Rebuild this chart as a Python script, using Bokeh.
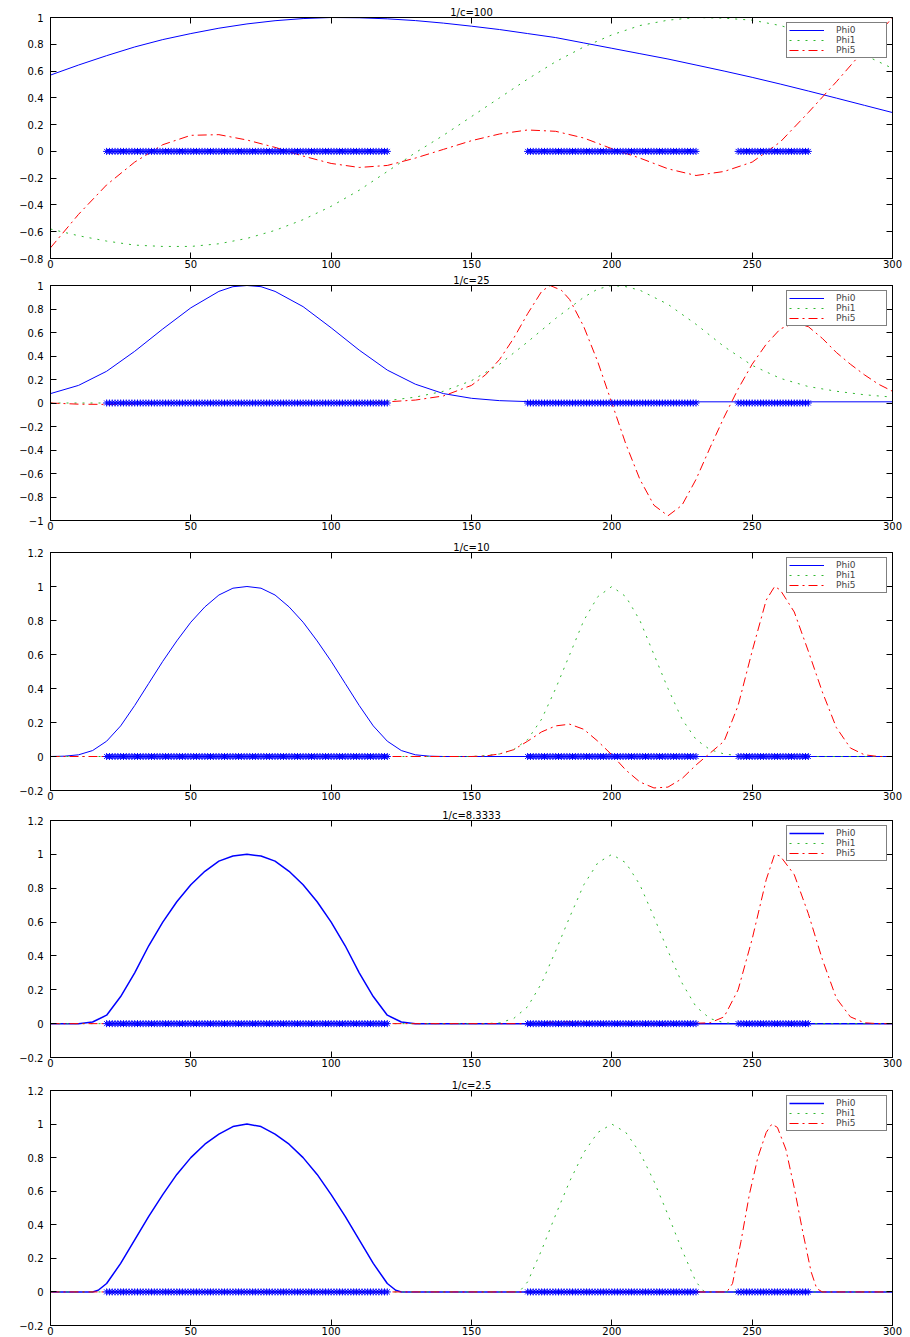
from bokeh.plotting import figure
from bokeh.layouts import column
from bokeh.models import Range1d, FixedTicker, LinearAxis, Title
from bokeh.embed import file_html
from bokeh.resources import INLINE

# ---------------- data ----------------
TITLES = ["1/c=100", "1/c=25", "1/c=10", "1/c=8.3333", "1/c=2.5"]
SERIES_NAMES = ["Phi0", "Phi1", "Phi5"]

X_TICKS = [0, 50, 100, 150, 200, 250, 300]

Y_TICKS_P1 = [-0.8, -0.6, -0.4, -0.2, 0, 0.2, 0.4, 0.6, 0.8, 1]
Y_LABELS_P1 = ["\u22120.8", "\u22120.6", "\u22120.4", "\u22120.2", "0", "0.2", "0.4", "0.6", "0.8", "1"]
Y_TICKS_P2 = [-1, -0.8, -0.6, -0.4, -0.2, 0, 0.2, 0.4, 0.6, 0.8, 1]
Y_LABELS_P2 = ["\u22121", "\u22120.8", "\u22120.6", "\u22120.4", "\u22120.2", "0", "0.2", "0.4", "0.6", "0.8", "1"]
Y_TICKS_P345 = [-0.2, 0, 0.2, 0.4, 0.6, 0.8, 1, 1.2]
Y_LABELS_P345 = ["\u22120.2", "0", "0.2", "0.4", "0.6", "0.8", "1", "1.2"]

# node positions (blue stars on y=0): three node segments, unit spacing
NODE_SEGMENTS = [(20, 120), (170, 230), (245, 270)]
NODE_STEP = 1

# panel 1  (1/c=100)
P1_X = [0, 10, 20, 30, 40, 50, 60, 70, 80, 90, 100, 110, 120, 130, 140, 150,
        160, 170, 180, 190, 200, 210, 220, 230, 240, 250, 260, 270, 280, 290, 300]
P1_PHI0 = [0.57, 0.645, 0.715, 0.78, 0.835, 0.88, 0.92, 0.952, 0.976, 0.992, 1.0, 0.998, 0.99,
           0.977, 0.958, 0.935, 0.91, 0.88, 0.85, 0.81, 0.77, 0.73, 0.69, 0.645, 0.60, 0.553,
           0.503, 0.451, 0.398, 0.344, 0.29]
P1_PHI1 = [-0.58, -0.63, -0.67, -0.70, -0.71, -0.71, -0.69, -0.65, -0.59, -0.51, -0.41, -0.29,
           -0.15, -0.01, 0.12, 0.26, 0.40, 0.54, 0.67, 0.78, 0.87, 0.94, 0.98, 1.0, 0.995, 0.98,
           0.94, 0.88, 0.81, 0.72, 0.62]
P1_PHI5 = [-0.72, -0.47, -0.25, -0.08, 0.05, 0.12, 0.125, 0.085, 0.03, -0.035, -0.09, -0.12,
           -0.105, -0.05, 0.015, 0.08, 0.13, 0.16, 0.15, 0.10, 0.02, -0.05, -0.13, -0.18, -0.15,
           -0.08, 0.07, 0.29, 0.52, 0.76, 1.0]

# panel 2  (1/c=25)
P2_PHI0_X = [0, 10, 20, 30, 40, 50, 60, 65, 70, 75, 80, 90, 100, 110, 120, 130, 140, 150, 160,
             170, 180, 300]
P2_PHI0_Y = [0.08, 0.15, 0.27, 0.44, 0.63, 0.81, 0.95, 0.99, 1.0, 0.99, 0.95, 0.82, 0.64, 0.45,
             0.28, 0.16, 0.08, 0.04, 0.02, 0.012, 0.01, 0.01]
P2_PHI1_X = [0, 100, 110, 120, 130, 140, 150, 160, 170, 180, 190, 195, 200, 205, 210, 220, 230,
             240, 250, 260, 270, 280, 290, 300]
P2_PHI1_Y = [0, 0.0, 0.01, 0.02, 0.05, 0.10, 0.19, 0.33, 0.52, 0.72, 0.90, 0.97, 1.0, 0.99, 0.96,
             0.84, 0.67, 0.48, 0.32, 0.21, 0.14, 0.10, 0.07, 0.05]
P2_PHI5_X = [0, 10, 20, 30, 40, 110, 120, 130, 140, 150, 155, 160, 165, 170, 175, 178, 182, 185,
             190, 195, 200, 205, 210, 215, 220, 225, 230, 235, 240, 245, 250, 255, 260, 265, 270,
             275, 280, 285, 290, 295, 300]
P2_PHI5_Y = [0, -0.01, -0.012, -0.008, 0, 0, 0.01, 0.025, 0.06, 0.15, 0.24, 0.37, 0.55, 0.76,
             0.95, 1.0, 0.96, 0.88, 0.65, 0.35, 0.0, -0.35, -0.65, -0.87, -0.96, -0.87, -0.65,
             -0.38, -0.12, 0.12, 0.33, 0.50, 0.63, 0.68, 0.65, 0.55, 0.43, 0.33, 0.24, 0.16, 0.10]

# panel 3  (1/c=10)
P3_PHI0_X = [0, 5, 10, 15, 20, 25, 30, 35, 40, 45, 50, 55, 60, 65, 70, 75, 80, 85, 90, 95, 100,
             105, 110, 115, 120, 125, 130, 135, 140, 300]
P3_PHI0_Y = [0, 0.002, 0.01, 0.035, 0.09, 0.18, 0.30, 0.43, 0.56, 0.68, 0.79, 0.88, 0.95, 0.99,
             1.0, 0.99, 0.95, 0.88, 0.79, 0.68, 0.56, 0.43, 0.30, 0.18, 0.09, 0.035, 0.01, 0.002,
             0, 0]
P3_PHI1_X = [0, 150, 155, 160, 165, 170, 175, 180, 185, 190, 195, 200, 205, 210, 215, 220, 225,
             230, 235, 240, 245, 250, 300]
P3_PHI1_Y = [0, 0, 0.005, 0.015, 0.04, 0.10, 0.22, 0.40, 0.60, 0.80, 0.94, 1.0, 0.94, 0.80,
             0.60, 0.40, 0.22, 0.10, 0.04, 0.015, 0.005, 0, 0]
P3_PHI5_X = [0, 150, 155, 160, 165, 170, 175, 180, 185, 190, 195, 200, 205, 210, 215, 220, 225,
             230, 235, 240, 245, 250, 255, 258, 260, 265, 270, 275, 280, 285, 290, 295, 300]
P3_PHI5_Y = [0, 0, 0.003, 0.015, 0.04, 0.09, 0.145, 0.18, 0.19, 0.16, 0.09, 0.01, -0.08, -0.15,
             -0.185, -0.18, -0.13, -0.05, 0.02, 0.09, 0.30, 0.62, 0.92, 1.0, 0.98, 0.85, 0.62,
             0.38, 0.17, 0.05, 0.01, 0, 0]

# panel 4  (1/c=8.3333)
P4_PHI0_X = [0, 10, 15, 20, 25, 30, 35, 40, 45, 50, 55, 60, 65, 70, 75, 80, 85, 90, 95, 100,
             105, 110, 115, 120, 125, 130, 300]
P4_PHI0_Y = [0, 0, 0.01, 0.05, 0.16, 0.30, 0.46, 0.60, 0.72, 0.82, 0.90, 0.96, 0.99, 1.0, 0.99,
             0.96, 0.90, 0.82, 0.72, 0.60, 0.46, 0.30, 0.16, 0.05, 0.01, 0, 0]
P4_PHI1_X = [0, 155, 160, 165, 170, 175, 180, 185, 190, 195, 200, 205, 210, 215, 220, 225, 230,
             235, 240, 245, 300]
P4_PHI1_Y = [0, 0, 0.005, 0.03, 0.10, 0.24, 0.43, 0.63, 0.82, 0.95, 1.0, 0.95, 0.82, 0.63, 0.43,
             0.24, 0.10, 0.03, 0.005, 0, 0]
P4_PHI5_X = [0, 170, 175, 180, 185, 190, 200, 210, 215, 220, 225, 235, 240, 245, 250, 255, 258,
             260, 265, 270, 275, 280, 285, 290, 295, 300]
P4_PHI5_Y = [0, 0, 0.005, 0.01, 0.01, 0.005, 0, -0.005, -0.01, -0.008, 0, 0.005, 0.04, 0.20,
             0.50, 0.85, 1.0, 0.99, 0.88, 0.65, 0.38, 0.15, 0.04, 0.005, 0, 0]

# panel 5  (1/c=2.5)
P5_PHI0_X = [0, 15, 17, 20, 25, 30, 35, 40, 45, 50, 55, 60, 65, 70, 75, 80, 85, 90, 95, 100,
             105, 110, 115, 120, 123, 125, 300]
P5_PHI0_Y = [0, 0, 0.01, 0.05, 0.17, 0.31, 0.45, 0.58, 0.70, 0.80, 0.88, 0.94, 0.985, 1.0,
             0.985, 0.94, 0.88, 0.80, 0.70, 0.58, 0.45, 0.31, 0.17, 0.05, 0.01, 0, 0]
P5_PHI1_X = [0, 167, 170, 175, 180, 185, 190, 195, 200, 205, 210, 215, 220, 225, 230, 233, 300]
P5_PHI1_Y = [0, 0, 0.06, 0.25, 0.46, 0.66, 0.83, 0.95, 1.0, 0.95, 0.83, 0.66, 0.46, 0.25, 0.06,
             0, 0]
P5_PHI5_X = [0, 241, 243, 246, 249, 252, 255, 257, 259, 262, 265, 268, 271, 273, 275, 300]
P5_PHI5_Y = [0, 0, 0.05, 0.30, 0.58, 0.80, 0.95, 1.0, 0.98, 0.85, 0.62, 0.36, 0.12, 0.02, 0, 0]

# ---------------- style / layout ----------------
FONT = "DejaVu Sans"
BLUE = "#0000ff"
GREEN = "#30b830"
RED = "#ff0000"
WIDTH = 910

node_x = []
for a, b in NODE_SEGMENTS:
    node_x += list(range(a, b + 1, NODE_STEP))
node_y = [0] * len(node_x)

panels = [
    dict(title=TITLES[0], ylim=(-0.8, 1.0), yt=Y_TICKS_P1, yl=Y_LABELS_P1,
         c0=(P1_X, P1_PHI0), c1=(P1_X, P1_PHI1), c5=(P1_X, P1_PHI5),
         h=271, top=17, bottom=13, lw0=1.0),
    dict(title=TITLES[1], ylim=(-1.0, 1.0), yt=Y_TICKS_P2, yl=Y_LABELS_P2,
         c0=(P2_PHI0_X, P2_PHI0_Y), c1=(P2_PHI1_X, P2_PHI1_Y), c5=(P2_PHI5_X, P2_PHI5_Y),
         h=267, top=14, bottom=18, lw0=1.0),
    dict(title=TITLES[2], ylim=(-0.2, 1.2), yt=Y_TICKS_P345, yl=Y_LABELS_P345,
         c0=(P3_PHI0_X, P3_PHI0_Y), c1=(P3_PHI1_X, P3_PHI1_Y), c5=(P3_PHI5_X, P3_PHI5_Y),
         h=268, top=14, bottom=16, lw0=1.0),
    dict(title=TITLES[3], ylim=(-0.2, 1.2), yt=Y_TICKS_P345, yl=Y_LABELS_P345,
         c0=(P4_PHI0_X, P4_PHI0_Y), c1=(P4_PHI1_X, P4_PHI1_Y), c5=(P4_PHI5_X, P4_PHI5_Y),
         h=270, top=14, bottom=19, lw0=1.5),
    dict(title=TITLES[4], ylim=(-0.2, 1.2), yt=Y_TICKS_P345, yl=Y_LABELS_P345,
         c0=(P5_PHI0_X, P5_PHI0_Y), c1=(P5_PHI1_X, P5_PHI1_Y), c5=(P5_PHI5_X, P5_PHI5_Y),
         h=261, top=14, bottom=12, lw0=1.5),
]


def style_axis(ax, ticks, labels=True, overrides=None):
    ax.ticker = FixedTicker(ticks=ticks)
    ax.major_tick_in = 6
    ax.major_tick_out = 0
    ax.minor_tick_line_color = None
    ax.axis_line_color = "black"
    ax.axis_line_width = 1
    ax.major_tick_line_color = "black"
    ax.major_label_text_font = FONT
    ax.major_label_text_color = "black"
    ax.major_label_text_font_size = "10px"
    if overrides:
        ax.major_label_overrides = overrides
    if not labels:
        ax.major_label_text_font_size = "0px"
        ax.major_label_text_color = None
        ax.major_label_text_alpha = 0
        ax.major_label_standoff = 0


figs = []
for cfg in panels:
    p = figure(width=WIDTH, height=cfg["h"], x_range=Range1d(0, 300),
               y_range=Range1d(*cfg["ylim"]), output_backend="svg",
               toolbar_location=None, title=None,
               min_border_left=50, min_border_right=18,
               min_border_top=cfg["top"], min_border_bottom=cfg["bottom"])
    p.grid.visible = False
    p.outline_line_color = "black"
    p.outline_line_width = 1
    p.background_fill_color = "white"
    p.border_fill_color = "white"

    style_axis(p.xaxis[0], X_TICKS)
    p.xaxis[0].major_label_standoff = 1
    style_axis(p.yaxis[0], cfg["yt"], overrides=dict(zip(cfg["yt"], cfg["yl"])))
    p.yaxis[0].major_label_standoff = 7
    top_ax = LinearAxis()
    style_axis(top_ax, X_TICKS, labels=False)
    p.add_layout(top_ax, "above")
    right_ax = LinearAxis()
    style_axis(right_ax, cfg["yt"], labels=False)
    p.add_layout(right_ax, "right")

    p.add_layout(Title(text=cfg["title"], align="center", text_font=FONT,
                       text_font_size="10px", text_font_style="normal",
                       text_color="black", standoff=0, offset=0), "above")

    x0, y0 = cfg["c0"]
    x1, y1 = cfg["c1"]
    x5, y5 = cfg["c5"]
    p.line(x0, y0, line_color=BLUE, line_width=cfg["lw0"], legend_label=SERIES_NAMES[0])
    p.line(x1, y1, line_color=GREEN, line_width=1, line_dash="2 6", legend_label=SERIES_NAMES[1])
    p.line(x5, y5, line_color=RED, line_width=1, line_dash="9 4 2 4", legend_label=SERIES_NAMES[2])
    p.scatter(node_x, node_y, marker="asterisk", size=7, line_color=BLUE, line_width=1)

    lg = p.legend[0]
    lg.location = "top_right"
    lg.margin = 5
    lg.padding = 2
    lg.spacing = 0
    lg.glyph_width = 35
    lg.glyph_height = 8
    lg.label_height = 8
    lg.label_width = 48
    lg.label_standoff = 12
    lg.label_text_font = FONT
    lg.label_text_font_size = "9px"
    lg.border_line_color = "black"
    lg.border_line_width = 1
    lg.background_fill_alpha = 1.0
    figs.append(p)

layout = column(*figs, spacing=0)
open("out.html", "w").write(file_html(layout, INLINE))
